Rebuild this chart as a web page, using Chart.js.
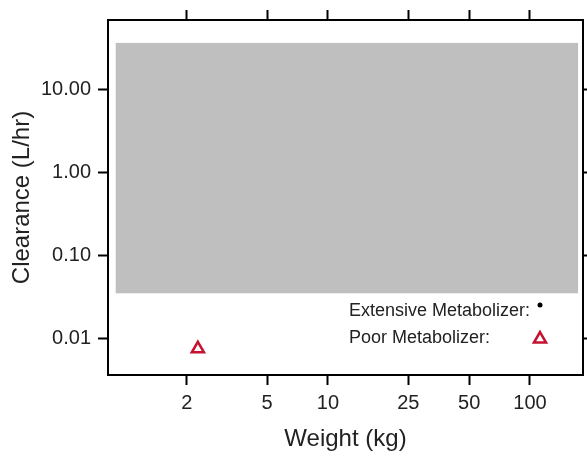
<!DOCTYPE html>
<html>
<head>
<meta charset="utf-8">
<script src="https://cdn.jsdelivr.net/npm/chart.js@4/dist/chart.umd.min.js"></script>
<style>
html, body { margin: 0; padding: 0; background: #fff; }
#wrap { width: 587px; height: 460px; }
</style>
</head>
<body>
<div id="wrap"><canvas id="chart"></canvas></div>
<script>
// Dados do gráfico
const xTicks = [2, 5, 10, 25, 50, 100];
const yTicks = [0.01, 0.1, 1, 10];
const xRange = [0.815, 183];
const yRange = [0.00357, 70];
const extensiveWeight = [];
const extensiveClearance = [];
const poorWeight = [2.27];
const poorClearance = [0.0074];
// região encoberta (cinza), em unidades dos eixos
const maskX = [0.89, 173];
const maskY = [0.0347, 37];

const FONT = '"Liberation Sans", Arial, Helvetica, sans-serif';
const TEXT = '#222';
const RED = '#c41230';

const toPoints = (xs, ys) => xs.map((v, i) => ({ x: v, y: ys[i] }));

const extensiveStyle = { pointStyle: 'circle', radius: 2.5, rotation: 0, borderWidth: 0, fill: '#000', stroke: '#000' };
const poorStyle = { pointStyle: 'triangle', radius: 7, rotation: 0, borderWidth: 2.5, fill: '#fff', stroke: RED };

// Retângulo cinza desenhado pelas escalas
const maskPlugin = {
    id: 'mask',
    beforeDatasetsDraw(chart) {
        const { ctx, scales: { x, y } } = chart;
        const l = x.getPixelForValue(maskX[0]), r = x.getPixelForValue(maskX[1]);
        const t = y.getPixelForValue(maskY[1]), b = y.getPixelForValue(maskY[0]);
        ctx.save();
        ctx.fillStyle = '#bfbfbf';
        ctx.fillRect(l, t, r - l, b - t);
        ctx.restore();
    }
};

// Legenda interna (texto antes do marcador)
const legendPlugin = {
    id: 'metabLegend',
    afterDraw(chart) {
        const { ctx, chartArea: a } = chart;
        const tx = a.left + 241, mx = a.right - 43;
        const rows = [
            { label: 'Extensive Metabolizer:', ty: a.bottom - 64, my: a.bottom - 70, style: extensiveStyle },
            { label: 'Poor Metabolizer:', ty: a.bottom - 37, my: a.bottom - 36, style: poorStyle }
        ];
        ctx.save();
        ctx.font = '18px ' + FONT;
        ctx.textBaseline = 'middle';
        ctx.textAlign = 'left';
        rows.forEach(r => {
            ctx.fillStyle = TEXT;
            ctx.fillText(r.label, tx, r.ty);
            ctx.fillStyle = r.style.fill;
            ctx.strokeStyle = r.style.stroke;
            ctx.lineWidth = r.style.borderWidth;
            Chart.helpers.drawPoint(ctx, r.style, mx, r.my);
        });
        ctx.restore();
    }
};

const fixTicks = values => scale => { scale.ticks = values.map(v => ({ value: v })); };
// tamanho fixo dos eixos, sem folga extra para os rótulos
const fitSize = (w, h) => s => {
    if (w !== null) s.width = w;
    if (h !== null) s.height = h;
    s.paddingLeft = s.paddingRight = s.paddingTop = s.paddingBottom = 0;
};
const grid = { drawOnChartArea: false, tickLength: 10, tickWidth: 2, tickColor: '#000' };
const border = { display: true, color: '#000', width: 2 };

new Chart(document.getElementById('chart'), {
    type: 'scatter',
    data: {
        datasets: [{
            label: 'Extensive Metabolizer',
            data: toPoints(extensiveWeight, extensiveClearance),
            pointStyle: 'circle',
            pointRadius: 2.5,
            backgroundColor: '#000',
            borderColor: '#000'
        }, {
            label: 'Poor Metabolizer',
            data: toPoints(poorWeight, poorClearance),
            pointStyle: 'triangle',
            pointRadius: 7,
            borderWidth: 2.5,
            borderColor: RED,
            backgroundColor: '#fff'
        }]
    },
    options: {
        responsive: true,
        maintainAspectRatio: false,
        animation: false,
        layout: { padding: 0, autoPadding: false },
        plugins: { legend: { display: false }, tooltip: { enabled: false } },
        scales: {
            x: {
                type: 'logarithmic', position: 'bottom', min: xRange[0], max: xRange[1],
                afterBuildTicks: fixTicks(xTicks),
                afterFit: fitSize(null, 85),
                grid, border,
                ticks: { font: { family: FONT, size: 20 }, color: TEXT, padding: 6, autoSkip: false, maxRotation: 0, callback: v => String(v) },
                title: { display: true, text: 'Weight (kg)', color: TEXT, font: { family: FONT, size: 24 }, padding: { top: 0, bottom: 6 } }
            },
            x2: {
                type: 'logarithmic', position: 'top', min: xRange[0], max: xRange[1],
                afterBuildTicks: fixTicks(xTicks),
                afterFit: fitSize(null, 20),
                grid, border,
                ticks: { display: false }
            },
            y: {
                type: 'logarithmic', position: 'left', min: yRange[0], max: yRange[1],
                afterBuildTicks: fixTicks(yTicks),
                afterFit: fitSize(108, null),
                grid, border,
                ticks: { font: { family: FONT, size: 20 }, color: TEXT, padding: 7, autoSkip: false, callback: v => Number(v).toFixed(2) },
                title: { display: true, text: 'Clearance (L/hr)', color: TEXT, font: { family: FONT, size: 24 }, padding: { top: 8, bottom: 0 } }
            },
            y2: {
                type: 'logarithmic', position: 'right', min: yRange[0], max: yRange[1],
                afterBuildTicks: fixTicks(yTicks),
                afterFit: fitSize(4, null),
                grid, border,
                ticks: { display: false }
            }
        }
    },
    plugins: [maskPlugin, legendPlugin]
});
</script>
</body>
</html>
